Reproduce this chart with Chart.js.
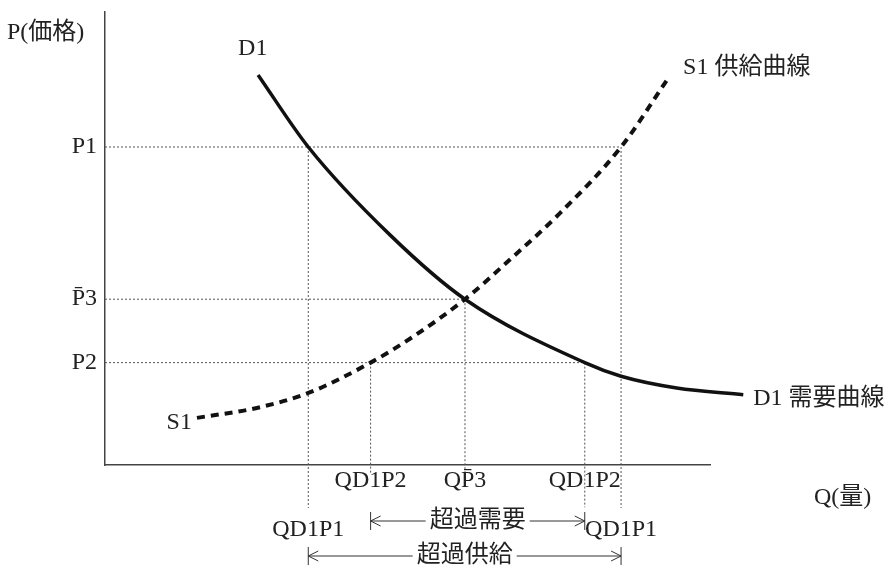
<!DOCTYPE html>
<html>
<head>
<meta charset="utf-8">
<script src="https://cdn.jsdelivr.net/npm/chart.js@4.4.1/dist/chart.umd.min.js"></script>
<style>
  html, body { margin: 0; padding: 0; background: #fff; }
</style>
</head>
<body>
<canvas id="chart" width="893" height="568"></canvas>
<script>
// D1 demand curve (Q, P)
const demandQ = [2.53, 3.36, 4.71, 5.95, 7.93, 8.53, 9.45, 10.55];
const demandP = [8.61, 7.02, 5.08, 3.66, 2.26, 1.96, 1.70, 1.55];
// S1 supply curve (Q, P)
const supplyQ = [1.52, 2.51, 3.36, 4.39, 5.09, 5.95, 6.69, 7.52, 8.53, 9.29];
const supplyP = [1.04, 1.26, 1.59, 2.26, 2.83, 3.66, 4.53, 5.56, 7.02, 8.50];

// price levels on the P axis
const priceVals = [2.26, 3.66, 7.02];
const priceLabels = ['P2', 'P\u03043', 'P1'];
const priceReach = [7.93, 5.95, 8.53];   // Q where the dotted price line stops

// quantities on the Q axis
const qtyVals = [3.36, 4.39, 5.95, 7.93, 8.53];
const qtyLabels = ['QD1P1', 'QD1P2', 'QP\u03043', 'QD1P2', 'QD1P1'];
const qtyRow = [2, 1, 1, 1, 2];
const qtyFrom = [7.02, 2.26, 3.66, 2.26, 7.02];      // P where the dotted line starts
const qtyTo = [-0.95, -0.18, -0.26, -0.93, -0.95];   // runs down past the axis

const FONT = '"Liberation Serif", "Noto Sans CJK JP", serif';
const INK = '#222';
const SIZE = 24;

const pts = (xs, ys) => xs.map((q, i) => ({x: q, y: ys[i]}));

const guide = (data) => ({
  data: data,
  borderColor: '#555',
  borderWidth: 1,
  borderDash: [2, 2],
  pointRadius: 0,
  clip: false
});

const datasets = [
  {
    label: 'D1',
    data: pts(demandQ, demandP),
    borderColor: '#111',
    borderWidth: 3.5,
    cubicInterpolationMode: 'monotone',
    pointRadius: 0,
    clip: false
  },
  {
    label: 'S1',
    data: pts(supplyQ, supplyP),
    borderColor: '#111',
    borderWidth: 4,
    borderDash: [8, 6],
    cubicInterpolationMode: 'monotone',
    pointRadius: 0,
    clip: false
  }
];
priceVals.forEach((p, i) => datasets.push(guide([{x: 0, y: p}, {x: priceReach[i], y: p}])));
qtyVals.forEach((q, i) => datasets.push(guide([{x: q, y: qtyFrom[i]}, {x: q, y: qtyTo[i]}])));

function arrow(ctx, x1, x2, y, text) {
  const w = ctx.measureText(text).width;
  const mid = (x1 + x2) / 2;
  ctx.beginPath();
  ctx.moveTo(x1, y); ctx.lineTo(mid - w / 2 - 4, y);
  ctx.moveTo(mid + w / 2 + 4, y); ctx.lineTo(x2, y);
  // heads
  ctx.moveTo(x1 + 10, y - 5); ctx.lineTo(x1, y); ctx.lineTo(x1 + 10, y + 5);
  ctx.moveTo(x2 - 10, y - 5); ctx.lineTo(x2, y); ctx.lineTo(x2 - 10, y + 5);
  // end bars
  ctx.moveTo(x1, y - 9); ctx.lineTo(x1, y + 9);
  ctx.moveTo(x2, y - 9); ctx.lineTo(x2, y + 9);
  ctx.stroke();
  ctx.textAlign = 'center';
  ctx.textBaseline = 'middle';
  ctx.fillText(text, mid, y);
}

const notes = {
  id: 'notes',
  afterDraw(chart) {
    const {ctx, scales: {x, y}} = chart;
    const px = q => x.getPixelForValue(q);
    const py = p => y.getPixelForValue(p);
    const base = py(0);
    ctx.save();
    ctx.fillStyle = INK;
    ctx.strokeStyle = '#333';
    ctx.lineWidth = 1;
    ctx.font = SIZE + 'px ' + FONT;

    // axis names
    ctx.textBaseline = 'alphabetic';
    ctx.textAlign = 'left';
    ctx.fillText('P(価格)', 7, 39);
    ctx.fillText('Q(量)', 814, base + 39);

    // curve names
    ctx.textBaseline = 'middle';
    const dn = demandQ.length - 1, sn = supplyQ.length - 1;
    ctx.fillText('D1', px(demandQ[0]) - 20, py(demandP[0]) - 26);
    ctx.fillText('D1 需要曲線', px(demandQ[dn]) + 10, py(demandP[dn]) + 4);
    ctx.fillText('S1 供給曲線', px(supplyQ[sn]) + 16, py(supplyP[sn]) - 12);
    ctx.textAlign = 'right';
    ctx.fillText('S1', px(supplyQ[0]) - 5, py(supplyP[0]) + 5);

    // quantity labels
    ctx.textAlign = 'center';
    ctx.textBaseline = 'alphabetic';
    qtyVals.forEach((q, i) => {
      ctx.fillText(qtyLabels[i], px(q), base + (qtyRow[i] === 1 ? 22 : 71));
    });

    // excess demand / excess supply spans
    arrow(ctx, px(qtyVals[1]), px(qtyVals[3]), base + 56, '超過需要');
    arrow(ctx, px(qtyVals[0]), px(qtyVals[4]), base + 91, '超過供給');
    ctx.restore();
  }
};

new Chart(document.getElementById('chart'), {
  type: 'line',
  data: {datasets: datasets},
  plugins: [notes],
  options: {
    responsive: false,
    animation: false,
    layout: {padding: {top: 12, right: 183, left: 0, bottom: 0}},
    plugins: {legend: {display: false}, tooltip: {enabled: false}},
    scales: {
      x: {
        type: 'linear',
        min: 0,
        max: 10,
        grid: {display: false},
        border: {color: '#444', width: 1.5},
        ticks: {display: false},
        afterFit: s => { s.height = 103; s.paddingLeft = 0; s.paddingRight = 0; }
      },
      y: {
        type: 'linear',
        min: 0,
        max: 10,
        grid: {display: false, drawTicks: false},
        border: {color: '#444', width: 1.5},
        afterBuildTicks: s => { s.ticks = priceVals.map(v => ({value: v})); },
        ticks: {
          autoSkip: false,
          padding: 8,
          color: INK,
          font: {family: FONT, size: SIZE},
          callback: (v, i) => priceLabels[i]
        },
        afterFit: s => { s.width = 105; s.paddingTop = 0; s.paddingBottom = 0; }
      }
    }
  }
});
</script>
</body>
</html>
